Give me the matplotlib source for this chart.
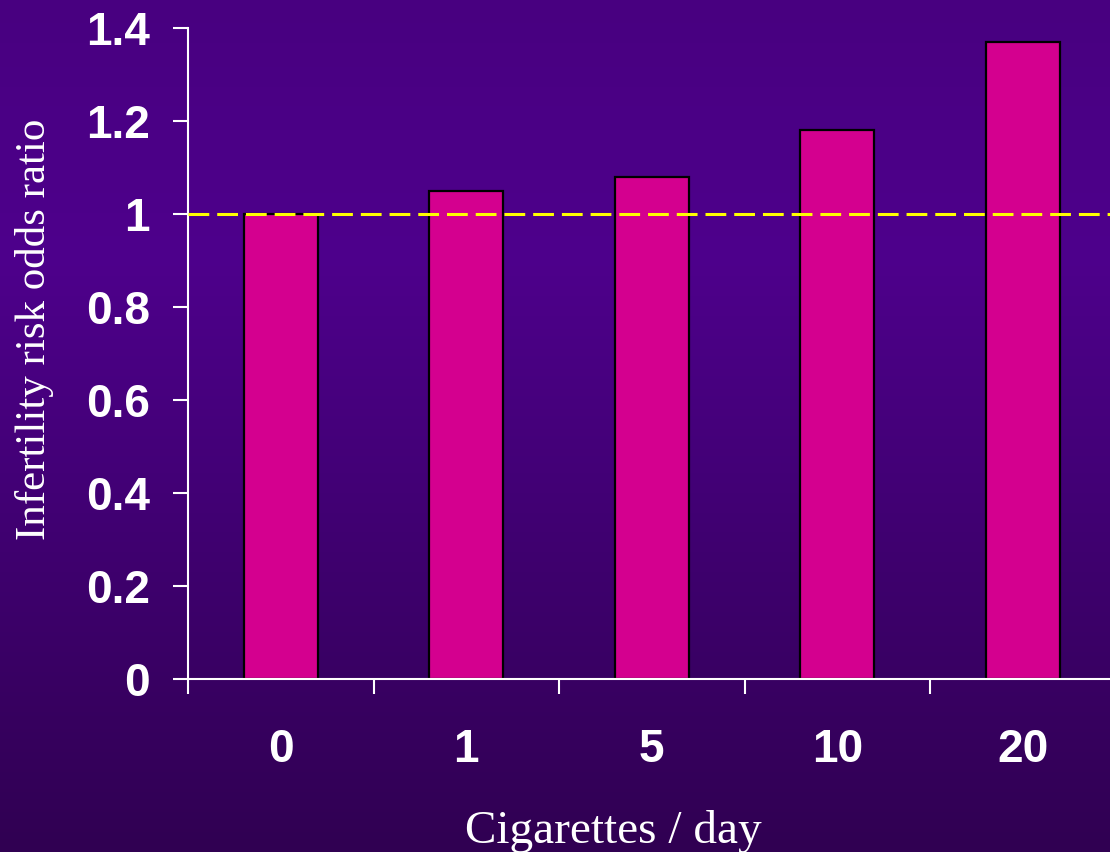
import numpy as np
import matplotlib.pyplot as plt
from matplotlib.colors import LinearSegmentedColormap

# data
cigs_per_day = ['0', '1', '5', '10', '20']
odds_ratio = [1.0, 1.05, 1.08, 1.18, 1.37]
reference_level = 1.0
ytick_values = [0, 0.2, 0.4, 0.6, 0.8, 1.0, 1.2, 1.4]
ytick_labels = ['0', '0.2', '0.4', '0.6', '0.8', '1', '1.2', '1.4']

plt.rcParams['font.family'] = ['Liberation Sans', 'DejaVu Sans']
plt.rcParams['font.weight'] = 'bold'

W, H = 1110, 852
fig = plt.figure(figsize=(W / 100, H / 100), dpi=100)

# purple gradient background
bg = fig.add_axes([0, 0, 1, 1], zorder=0)
grad = np.linspace(0, 1, 256).reshape(-1, 1)
cmap = LinearSegmentedColormap.from_list(
    'bg', [(0, '#480080'), (0.3, '#4e008c'), (1, '#300052')])
bg.imshow(grad, aspect='auto', cmap=cmap, extent=[0, 1, 0, 1], origin='upper')
bg.axis('off')

ax = fig.add_axes([188 / W, 173 / H, 927.5 / W, 651 / H], zorder=1)
ax.set_facecolor('none')

x = np.arange(len(cigs_per_day))
ax.bar(x, odds_ratio, width=0.4, color='#d4008f', edgecolor='black',
       linewidth=1.6, zorder=2)
ax.axhline(reference_level, color='#ffff00', lw=2.2, dashes=(6.8, 2.6), zorder=3)

ax.set_xlim(-0.5, len(cigs_per_day) - 0.5)
ax.set_ylim(0, 1.4)

ax.set_xticks(np.arange(len(cigs_per_day) + 1) - 0.5)
ax.set_xticklabels([])
ax.set_xticks(x, labels=cigs_per_day, minor=True)
ax.set_yticks(ytick_values, labels=ytick_labels)

ax.tick_params(axis='x', which='major', length=10.5, width=1.5, color='white')
ax.tick_params(axis='x', which='minor', length=0, pad=35.5, labelsize=33,
               labelcolor='white')
ax.tick_params(axis='y', length=10.8, width=1.5, color='white', pad=16.5,
               labelsize=33, labelcolor='white')

for s in ['top', 'right']:
    ax.spines[s].set_visible(False)
for s in ['left', 'bottom']:
    ax.spines[s].set_color('white')
    ax.spines[s].set_linewidth(1.5)

fig.text(613.5 / W, 1 - 843 / H, 'Cigarettes / day', color='white',
         family='Liberation Serif', weight='normal', fontsize=34,
         ha='center', va='baseline')
fig.text(45 / W, 1 - 329 / H, 'Infertility risk odds ratio', color='white',
         family='Liberation Serif', weight='normal', fontsize=31,
         rotation=90, rotation_mode='anchor', ha='center', va='baseline')

fig.savefig('out.png', dpi=100)
